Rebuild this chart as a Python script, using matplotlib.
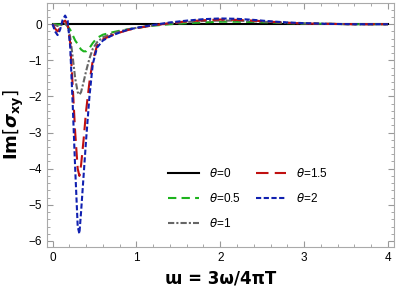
import matplotlib
matplotlib.use("Agg")
import matplotlib.pyplot as plt
from matplotlib.ticker import MultipleLocator

# omega values (shared by all curves)
x = [0, 0.03, 0.06, 0.09, 0.12, 0.15, 0.18, 0.21, 0.24, 0.27, 0.30, 0.32, 0.34,
     0.37, 0.40, 0.44, 0.48, 0.53, 0.6, 0.7, 0.8, 0.9, 1.0, 1.2, 1.4, 1.6, 1.8,
     2.0, 2.2, 2.4, 2.6, 2.8, 3.0, 3.3, 3.6, 4.0]

theta0 = [0.0] * len(x)
theta05 = [0, 0, -0.01, -0.01, 0, 0, -0.05, -0.15, -0.3, -0.45, -0.55, -0.63, -0.7,
           -0.75, -0.75, -0.66, -0.52, -0.38, -0.29, -0.23, -0.18, -0.14, -0.1, -0.04,
           0.0, 0.03, 0.05, 0.07, 0.07, 0.06, 0.05, 0.03, 0.02, 0.01, 0, 0]
theta1 = [0, -0.02, -0.05, -0.04, 0.0, 0.02, -0.05, -0.35, -0.9, -1.5, -1.88, -1.95, -1.88,
          -1.6, -1.3, -0.95, -0.68, -0.5, -0.36, -0.27, -0.2, -0.14, -0.1, -0.03,
          0.02, 0.06, 0.09, 0.1, 0.1, 0.08, 0.06, 0.04, 0.02, 0.01, 0, 0]
theta15 = [0, -0.12, -0.2, -0.1, 0.05, 0.1, 0.0, -0.5, -1.7, -3.0, -4.0, -4.2, -3.9,
           -3.2, -2.4, -1.6, -1.0, -0.6, -0.42, -0.31, -0.23, -0.16, -0.11, -0.03,
           0.03, 0.08, 0.11, 0.13, 0.12, 0.1, 0.07, 0.04, 0.02, 0.01, 0, 0]
theta2 = [0, -0.2, -0.3, -0.15, 0.12, 0.24, 0.1, -0.6, -2.2, -4.0, -5.6, -5.8, -5.2,
          -4.2, -3.2, -2.0, -1.1, -0.65, -0.45, -0.32, -0.23, -0.15, -0.1, -0.02,
          0.05, 0.1, 0.14, 0.16, 0.15, 0.12, 0.08, 0.05, 0.03, 0.01, 0.0, 0.0]

plt.rcParams['font.family'] = ['Liberation Sans', 'DejaVu Sans']

fig = plt.figure(figsize=(3.99, 2.92), dpi=100)
ax = fig.add_axes([0.117, 0.155, 0.870, 0.835])

ax.plot(x, theta0, color="black", lw=1.5, label=r"$\theta$=0")
ax.plot(x, theta05, color="#1DB31D", lw=1.5, ls=(0, (4, 2.5)), label=r"$\theta$=0.5")
ax.plot(x, theta1, color="#666666", lw=1.5, ls=(0, (3, 1, 1, 1)), label=r"$\theta$=1")
ax.plot(x, theta15, color="#C01010", lw=1.5, ls=(0, (6, 3)), label=r"$\theta$=1.5")
ax.plot(x, theta2, color="#1020B0", lw=1.5, ls=(0, (2.5, 1.2)), label=r"$\theta$=2")

ax.set_xlim(-0.07, 4.07)
ax.set_ylim(-6.16, 0.59)
ax.xaxis.set_major_locator(MultipleLocator(1))
ax.xaxis.set_minor_locator(MultipleLocator(0.2))
ax.yaxis.set_major_locator(MultipleLocator(1))
ax.yaxis.set_minor_locator(MultipleLocator(0.2))
ax.tick_params(which="both", direction="in", top=True, right=True, color="#999999",
               labelsize=8.5, pad=4)
ax.tick_params(axis="y", pad=3.5)
ax.tick_params(which="major", length=4)
ax.tick_params(which="minor", length=2)
for s in ax.spines.values():
    s.set_color("#aaaaaa")

ax.set_xlabel("ɯ = 3ω/4πT", fontsize=12, fontweight="bold", family="DejaVu Sans")
ax.set_ylabel(r"$\mathbf{Im}[\boldsymbol{\sigma}_{\mathbf{xy}}]$", fontsize=13, labelpad=2)

ax.legend(ncol=2, frameon=False, loc="upper left", bbox_to_anchor=(0.32, 0.37),
          fontsize=8.5, handlelength=2.6, columnspacing=1.3, labelspacing=1.0)

fig.savefig("out.png", dpi=100)
